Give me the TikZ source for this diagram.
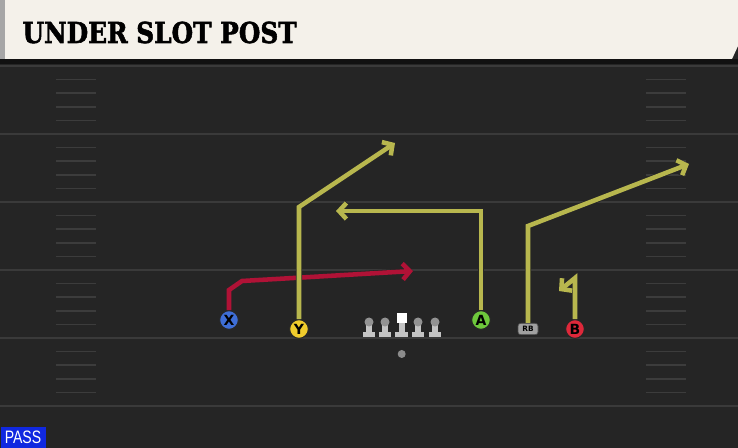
\documentclass[tikz,border=0pt]{standalone}
\usepackage{fontspec}
\usepackage{graphicx}
\setmainfont{DejaVu Sans}
\newfontfamily\titlefont{DejaVu Serif}[FakeBold=2]
\newfontfamily\passfont{Liberation Sans}
\usetikzlibrary{arrows.meta}

\definecolor{fieldbg}{RGB}{37,37,37}
\definecolor{fieldline}{RGB}{58,58,58}
\definecolor{hashline}{RGB}{60,60,60}
\definecolor{titlebg}{RGB}{244,241,234}
\definecolor{routeyellow}{RGB}{184,183,78}
\definecolor{routered}{RGB}{176,18,54}
\definecolor{xblue}{RGB}{62,110,214}
\definecolor{yyellow}{RGB}{240,204,44}
\definecolor{agreen}{RGB}{110,200,60}
\definecolor{bred}{RGB}{222,40,58}
\definecolor{rbgray}{RGB}{160,160,160}
\definecolor{olgray}{RGB}{196,196,196}
\definecolor{passblue}{RGB}{16,40,224}

\tikzset{every picture/.style={line width=0.75pt}}
\tikzset{
  player/.style={circle, draw=black!85, line width=0.75pt, minimum size=14pt, inner sep=0pt,
    font=\bfseries\fontsize{10.5}{10.5}\selectfont},
  route/.style={draw=routeyellow, line width=3.4pt,
    preaction={draw=black!85, line width=4.6pt},
    -{Straight Barb[length=5.5pt,width=12pt]}},
  hotroute/.style={route, draw=routered},
  olbase/.style={rectangle, fill=olgray, minimum width=9.5pt, minimum height=3.75pt, inner sep=0pt},
}

\begin{document}
\begin{tikzpicture}[x=0.75pt,y=0.75pt,yscale=-1,xscale=1]
\path[use as bounding box] (0,0) rectangle (738,448);

%Field
\fill[fieldbg] (0,0) rectangle (738,448);
\fill[black!55!fieldbg] (0,59) rectangle (738,64);
\foreach \y in {66,134,202,270,338,406}
  \draw[fieldline, line width=1.5pt] (0,\y) -- (738,\y);
%Hash marks
\foreach \y in {66,134,202,270,338}
  \foreach \k in {1,...,4} {
    \draw[hashline, line width=1.2pt] (56,{\y+13.6*\k}) -- (96,{\y+13.6*\k});
    \draw[hashline, line width=1.2pt] (646,{\y+13.6*\k}) -- (686,{\y+13.6*\k});
  }

%Title bar
\fill[titlebg] (5,0) -- (738,0) -- (738,46) -- (732,59) -- (5,59) -- cycle;
\fill[black!35] (0,0) rectangle (5,59);
\node[anchor=base west, inner sep=0pt, font=\titlefont\bfseries\fontsize{21.6}{24}\selectfont] (title) at (22,43)
  {\scalebox{0.86}[1]{UNDER SLOT POST}};

%Play tag
\node[anchor=south west, fill=passblue, text=white, minimum width=33.75pt, minimum height=15.75pt, inner sep=0pt,
  font=\passfont\fontsize{13.5}{13.5}\selectfont] (pass) at (0,448) {\scalebox{0.78}[1]{PASS}};

%Offensive line
\foreach \x/\n in {369/lt,385/lg,418/rg,435/rt} {
  \node[olbase] (\n) at (\x,334.5) {};
  \fill[olgray] (\x-3.3,334) rectangle (\x+3.3,322);
  \fill[black!25!olgray] (\x,322) circle (4.5);
}
\node[olbase] (c) at (401.7,334.5) {};
\fill[olgray] (398.5,334) rectangle (404.9,322);
\fill[white] (396.7,313) rectangle (406.7,323);
%Quarterback
\node[circle, fill=black!45, minimum size=6pt, inner sep=0pt] (qb) at (401.7,354) {};

%Players
\node[player, fill=xblue] (X) at (229,320) {X};
\node[player, fill=yyellow] (Y) at (299,329) {Y};
\node[player, fill=agreen] (A) at (481,320) {A};
\node[player, fill=bred] (B) at (575,329) {B};
\node[rectangle, rounded corners=2pt, fill=rbgray, draw=black!70, line width=0.5pt, minimum width=15pt, minimum height=8.5pt,
  inner sep=0pt, font=\bfseries\fontsize{5.5}{5.5}\selectfont] (RB) at (528,329) {RB};

%Route points
\coordinate (xcut) at (229,290);
\coordinate (xbend) at (242,281);
\coordinate (xend) at (413,271);
\coordinate (ystem) at (299,207);
\coordinate (yend) at (395,143);
\coordinate (astem) at (481,211);
\coordinate (aend) at (336,211);
\coordinate (rbstem) at (528,226);
\coordinate (rbend) at (689,164);
\coordinate (bstem) at (575,278);
\coordinate (bend) at (559,291);

%Routes
\draw[hotroute] (X) -- (xcut) -- (xbend) -- (xend);
\draw[route] (Y) -- (ystem) -- (yend);
\draw[route] (A) -- (astem) -- (aend);
\draw[route] (RB) -- (rbstem) -- (rbend);
\draw[route] (B) -- (bstem) -- (bend);

\end{tikzpicture}
\end{document}
